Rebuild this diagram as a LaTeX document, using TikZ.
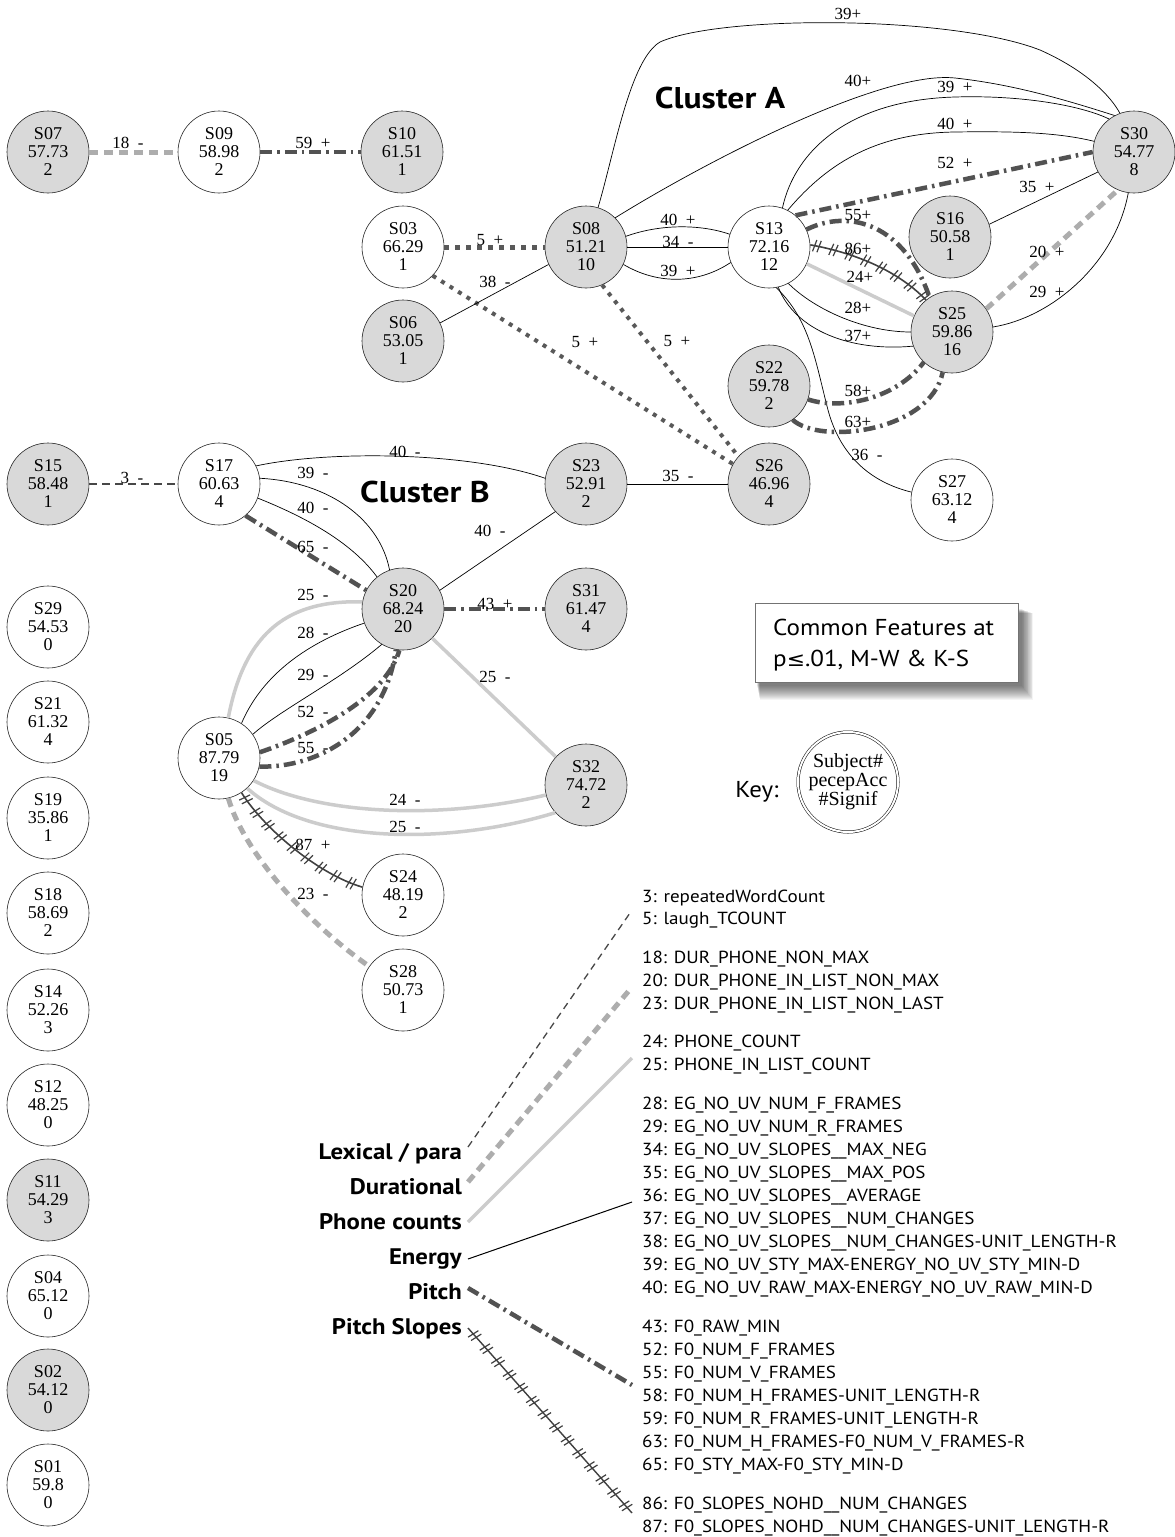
\documentclass[tikz,border=0pt]{standalone}
\usepackage{fontspec}
\setmainfont{Liberation Serif}
\newfontfamily\sans{PT Sans}
\newfontfamily\djv{DejaVu Sans}
\usetikzlibrary{decorations.markings}
\definecolor{nodegray}{gray}{0.85}
\definecolor{pitchc}{gray}{0.32}
\definecolor{durc}{gray}{0.68}
\definecolor{phonec}{gray}{0.80}
\definecolor{lexc}{gray}{0.28}
\definecolor{dotc}{gray}{0.35}
\definecolor{tickc}{gray}{0.25}
\begin{document}
\begin{tikzpicture}[x=1pt,y=-1pt,
  subj/.style={circle, draw=black!85, line width=0.6pt, minimum size=82pt, inner sep=0pt, align=center, font=\fontsize{18}{18}\selectfont, fill=white},
  gsubj/.style={subj, fill=nodegray},
  lbl/.style={font=\fontsize{17}{17}\selectfont, inner sep=0pt},
  thin/.style={draw=black, line width=0.7pt},
  phone/.style={draw=phonec, line width=3.5pt},
  dur/.style={draw=durc, line width=5pt, dash pattern=on 9pt off 6pt},
  pitch/.style={draw=pitchc, line width=4.5pt, dash pattern=on 12pt off 5pt on 2.5pt off 5pt},
  lex/.style={draw=lexc, line width=1.4pt, dash pattern=on 8pt off 5pt},
  dotbig/.style={draw=dotc, line width=5pt, dash pattern=on 5pt off 6pt},
  dotsmall/.style={draw=dotc, line width=4pt, dash pattern=on 4pt off 6pt},
  ticked/.style={draw=tickc, line width=1.6pt, postaction={decorate, decoration={markings, mark=between positions 0.05 and 0.98 step 17pt with {\draw[tickc, line width=1.2pt] (-3pt,-6pt) -- (-1pt,6pt) (1.5pt,-6pt) -- (3.5pt,6pt);}}}},
  feat/.style={anchor=base west, inner sep=0pt, font=\sans\fontsize{17.5}{17.5}\selectfont},
  cat/.style={anchor=base east, inner sep=0pt, font=\sans\bfseries\fontsize{22.5}{22.5}\selectfont},
  clus/.style={inner sep=0pt, font=\sans\bfseries\fontsize{30}{30}\selectfont}
]
\fill[white] (0,0) rectangle (1175,1537);
\useasboundingbox (0,0) rectangle (1175,1537);

% ---------- subject nodes ----------
\node[gsubj] (S07) at (48,152) {S07\\57.73\\2};
\node[subj]  (S09) at (219,152) {S09\\58.98\\2};
\node[gsubj] (S10) at (402,152) {S10\\61.51\\1};
\node[subj]  (S03) at (403,247) {S03\\66.29\\1};
\node[gsubj] (S06) at (403,341) {S06\\53.05\\1};
\node[gsubj] (S08) at (586,247) {S08\\51.21\\10};
\node[subj]  (S13) at (769,247) {S13\\72.16\\12};
\node[gsubj] (S30) at (1134,152) {S30\\54.77\\8};
\node[gsubj] (S16) at (950,237) {S16\\50.58\\1};
\node[gsubj] (S25) at (952,332) {S25\\59.86\\16};
\node[gsubj] (S22) at (769,386) {S22\\59.78\\2};
\node[gsubj] (S26) at (769,484) {S26\\46.96\\4};
\node[subj]  (S27) at (952,500) {S27\\63.12\\4};
\node[gsubj] (S15) at (48,484) {S15\\58.48\\1};
\node[subj]  (S17) at (219,484) {S17\\60.63\\4};
\node[gsubj] (S23) at (586,484) {S23\\52.91\\2};
\node[gsubj] (S20) at (403,609) {S20\\68.24\\20};
\node[gsubj] (S31) at (586,609) {S31\\61.47\\4};
\node[subj]  (S05) at (219,758) {S05\\87.79\\19};
\node[gsubj] (S32) at (586,785) {S32\\74.72\\2};
\node[subj]  (S24) at (403,895) {S24\\48.19\\2};
\node[subj]  (S28) at (403,990) {S28\\50.73\\1};
\node[subj]  (S29) at (48,627) {S29\\54.53\\0};
\node[subj]  (S21) at (48,722) {S21\\61.32\\4};
\node[subj]  (S19) at (48,818) {S19\\35.86\\1};
\node[subj]  (S18) at (48,913) {S18\\58.69\\2};
\node[subj]  (S14) at (48,1010) {S14\\52.26\\3};
\node[subj]  (S12) at (48,1105) {S12\\48.25\\0};
\node[gsubj] (S11) at (48,1200) {S11\\54.29\\3};
\node[subj]  (S04) at (48,1296) {S04\\65.12\\0};
\node[gsubj] (S02) at (48,1390) {S02\\54.12\\0};
\node[subj]  (S01) at (48,1485) {S01\\59.8\\0};

% ---------- cluster labels ----------
\node[clus] (cA) at (720,98) {\scalebox{1.12}[1]{Cluster A}};
\node[clus] (cB) at (425,492) {\scalebox{1.12}[1]{Cluster B}};

% ---------- top-left chain ----------
\draw[dur] (S07.east) -- (S09.west);
\draw[pitch] (S09.east) -- (S10.west);
\node[lbl] (e1) at (128,143) {18\enspace-};
\node[lbl] (e2) at (313,143) {59\enspace+};

% ---------- cluster A ----------
\draw[dotbig] (S03.east) -- (S08.west);
\draw[dotsmall] (S03.-44) -- (S26.151);
\draw[dotsmall] (S08.-67) -- (S26.138);
\draw[thin] (S06.26) -- (S08.205);
\draw[thin] (S08.15) .. controls (660,224) and (700,224) .. (S13.162);
\draw[thin] (S08.east) -- (S13.west);
\draw[thin] (S08.-25) .. controls (660,286) and (700,283) .. (S13.-158);
\draw[thin] (S23.east) -- (S26.west);
\draw[thin] (S08.73) .. controls (615,150) and (630,60) .. (660,42) .. controls (720,15) and (950,15) .. (1040,50) .. controls (1085,70) and (1110,95) .. (S30.110);
\draw[thin] (S08.45) .. controls (700,165) and (880,70) .. (955,78) .. controls (1010,84) and (1060,98) .. (S30.118);
\draw[thin] (S13.71) .. controls (795,150) and (850,100) .. (955,97) .. controls (1020,95) and (1080,105) .. (S30.127);
\draw[thin] (S13.63) .. controls (830,160) and (880,133) .. (955,132) .. controls (1020,131) and (1060,133) .. (S30.165);
\draw[pitch] (S13.50) -- (S30.180);
\draw[thin] (S16.18) -- (S30.209);
\draw[dur] (S25.34) -- (S30.247);
\draw[thin] (S25.7) .. controls (1050,318) and (1115,265) .. (S30.262);
\draw[pitch] (S13.25) .. controls (850,208) and (905,225) .. (S25.123);
\draw[ticked] (S13.3) .. controls (850,252) and (895,268) .. (S25.129);
\draw[phone] (S13.-24) -- (S25.157);
\draw[thin] (S13.-62) .. controls (815,310) and (865,332) .. (S25.180);
\draw[thin] (S13.-77) .. controls (795,330) and (850,352) .. (S25.200);
\draw[thin] (S13.-80) .. controls (810,320) and (815,360) .. (828,410) .. controls (840,455) and (870,482) .. (S27.169);
\draw[pitch] (S22.-19) .. controls (840,410) and (895,400) .. (S25.-133);
\draw[pitch] (S22.-55) .. controls (820,445) and (930,432) .. (S25.-103);

\node[lbl] (e3) at (490,240) {5\enspace+};
\node[lbl] (e4) at (495,282) {38\enspace-};
\node[lbl] (e5) at (585,342) {5\enspace+};
\node[lbl] (e6) at (677,341) {5\enspace+};
\node[lbl] (e7) at (678,220) {40\enspace+};
\node[lbl] (e8) at (678,242) {34\enspace-};
\node[lbl] (e9) at (678,271) {39\enspace+};
\node[lbl] (e10) at (848,14) {39+};
\node[lbl] (e11) at (858,81) {40+};
\node[lbl] (e12) at (955,87) {39\enspace+};
\node[lbl] (e13) at (955,124) {40\enspace+};
\node[lbl] (e14) at (955,163) {52\enspace+};
\node[lbl] (e15) at (1037,187) {35\enspace+};
\node[lbl] (e16) at (1047,252) {20\enspace+};
\node[lbl] (e17) at (1047,292) {29\enspace+};
\node[lbl] (e18) at (858,215) {55+};
\node[lbl] (e19) at (858,249) {86+};
\node[lbl] (e20) at (860,277) {24+};
\node[lbl] (e21) at (858,308) {28+};
\node[lbl] (e22) at (858,336) {37+};
\node[lbl] (e23) at (858,391) {58+};
\node[lbl] (e24) at (858,422) {63+};
\node[lbl] (e25) at (867,455) {36\enspace-};
\node[lbl] (e26) at (678,476) {35\enspace-};

% ---------- cluster B ----------
\draw[lex] (S15.east) -- (S17.west);
\draw[thin] (S17.26) .. controls (330,450) and (470,452) .. (S23.172);
\draw[thin] (S17.8) .. controls (330,482) and (380,520) .. (S20.109);
\draw[thin] (S17.-20) .. controls (300,515) and (350,540) .. (S20.129);
\draw[pitch] (S17.-50) -- (S20.153);
\draw[thin] (S20.27) -- (S23.222);
\draw[pitch] (S20.east) -- (S31.west);
\draw[phone] (S20.-45) -- (S32.137);
\draw[phone] (S05.77) .. controls (245,630) and (290,600) .. (S20.170);
\draw[thin] (S05.57) .. controls (260,680) and (300,645) .. (S20.200);
\draw[thin] (S05.35) .. controls (280,710) and (340,680) .. (S20.-121);
\draw[pitch] (S05.8) .. controls (310,735) and (385,700) .. (S20.-95);
\draw[pitch] (S05.-12) .. controls (320,768) and (385,730) .. (S20.-100);
\draw[phone] (S05.-33) .. controls (320,815) and (440,820) .. (S32.-166);
\draw[phone] (S05.-47) .. controls (310,845) and (450,845) .. (S32.-138);
\draw[ticked] (S05.-57) .. controls (265,830) and (320,875) .. (S24.169);
\draw[dur] (S05.-77) .. controls (245,855) and (310,925) .. (S28.145);

\node[lbl] (e27) at (132,478) {3\enspace-};
\node[lbl] (e28) at (405,452) {40\enspace-};
\node[lbl] (e29) at (313,473) {39\enspace-};
\node[lbl] (e30) at (313,508) {40\enspace-};
\node[lbl] (e31) at (313,547) {65\enspace-};
\node[lbl] (e32) at (490,531) {40\enspace-};
\node[lbl] (e33) at (495,604) {43\enspace+};
\node[lbl] (e34) at (313,595) {25\enspace-};
\node[lbl] (e35) at (313,633) {28\enspace-};
\node[lbl] (e36) at (313,675) {29\enspace-};
\node[lbl] (e37) at (313,712) {52\enspace-};
\node[lbl] (e38) at (313,748) {55\enspace-};
\node[lbl] (e39) at (495,677) {25\enspace-};
\node[lbl] (e40) at (405,800) {24\enspace-};
\node[lbl] (e41) at (405,827) {25\enspace-};
\node[lbl] (e42) at (313,845) {87\enspace+};
\node[lbl] (e43) at (313,894) {23\enspace-};

% ---------- common features box ----------
\foreach \i in {0,...,14}
  \fill[black, opacity=0.045] (757+\i*0.2, 609+\i*0.3) rectangle (1022+\i*0.8, 686+\i);
\node[draw=black!55, fill=white, line width=0.5pt, minimum width=263pt, minimum height=79pt, inner sep=0pt] (cfbox) at (886.5,642.5) {};
\node[anchor=base west, inner sep=0pt, font=\sans\fontsize{23}{23}\selectfont] (cft1) at (773,635) {\scalebox{1.09}[1]{Common Features at}};
\node[anchor=base west, inner sep=0pt, font=\sans\fontsize{23}{23}\selectfont] (cft2) at (773,666) {\scalebox{1.09}[1]{p{\djv\fontsize{20}{20}\selectfont ≤}.01, M-W \& K-S}};

% ---------- key ----------
\node[anchor=center, inner sep=0pt, font=\sans\fontsize{23}{23}\selectfont] (keylbl) at (757,792) {\scalebox{1.08}[1]{Key:}};
\node[circle, draw=black, line width=0.5pt, double, double distance=2pt, minimum size=100pt, inner sep=0pt, align=center, font=\fontsize{20}{19}\selectfont] (key) at (848,782) {Subject\#\\pecepAcc\\\#Signif};

% ---------- legend ----------
\foreach \y/\t [count=\n] in {
  896/{3: repeatedWordCount},
  918/{5: laugh\_TCOUNT},
  957/{18: DUR\_PHONE\_NON\_MAX},
  980/{20: DUR\_PHONE\_IN\_LIST\_NON\_MAX},
  1003/{23: DUR\_PHONE\_IN\_LIST\_NON\_LAST},
  1041/{24: PHONE\_COUNT},
  1064/{25: PHONE\_IN\_LIST\_COUNT},
  1103/{28: EG\_NO\_UV\_NUM\_F\_FRAMES},
  1126/{29: EG\_NO\_UV\_NUM\_R\_FRAMES},
  1149/{34: EG\_NO\_UV\_SLOPES\_\_MAX\_NEG},
  1172/{35: EG\_NO\_UV\_SLOPES\_\_MAX\_POS},
  1195/{36: EG\_NO\_UV\_SLOPES\_\_AVERAGE},
  1218/{37: EG\_NO\_UV\_SLOPES\_\_NUM\_CHANGES},
  1241/{38: EG\_NO\_UV\_SLOPES\_\_NUM\_CHANGES-UNIT\_LENGTH-R},
  1264/{39: EG\_NO\_UV\_STY\_MAX-ENERGY\_NO\_UV\_STY\_MIN-D},
  1287/{40: EG\_NO\_UV\_RAW\_MAX-ENERGY\_NO\_UV\_RAW\_MIN-D},
  1326/{43: F0\_RAW\_MIN},
  1349/{52: F0\_NUM\_F\_FRAMES},
  1372/{55: F0\_NUM\_V\_FRAMES},
  1395/{58: F0\_NUM\_H\_FRAMES-UNIT\_LENGTH-R},
  1418/{59: F0\_NUM\_R\_FRAMES-UNIT\_LENGTH-R},
  1441/{63: F0\_NUM\_H\_FRAMES-F0\_NUM\_V\_FRAMES-R},
  1464/{65: F0\_STY\_MAX-F0\_STY\_MIN-D},
  1503/{86: F0\_SLOPES\_NOHD\_\_NUM\_CHANGES},
  1526/{87: F0\_SLOPES\_NOHD\_\_NUM\_CHANGES-UNIT\_LENGTH-R}}
  \node[feat] (f\n) at (642,\y+6) {\scalebox{1.09}[1]{\t}};

\node[cat] (cLex) at (462,1159) {\scalebox{1.1}[1]{Lexical / para}};
\node[cat] (cDur) at (462,1194) {\scalebox{1.1}[1]{Durational}};
\node[cat] (cPho) at (462,1229) {\scalebox{1.1}[1]{Phone counts}};
\node[cat] (cEne) at (462,1264) {\scalebox{1.1}[1]{Energy}};
\node[cat] (cPit) at (462,1299) {\scalebox{1.1}[1]{Pitch}};
\node[cat] (cSlo) at (462,1334) {\scalebox{1.1}[1]{Pitch Slopes}};

\coordinate (lx1) at (468,1147); \coordinate (lx2) at (630,913);
\coordinate (du1) at (468,1182); \coordinate (du2) at (632,987);
\coordinate (ph1) at (468,1222); \coordinate (ph2) at (632,1058);
\coordinate (en1) at (468,1259); \coordinate (en2) at (632,1202);
\coordinate (pi1) at (468,1288); \coordinate (pi2) at (632,1385);
\coordinate (ps1) at (468,1328); \coordinate (ps2) at (632,1513);
\draw[draw=lexc, line width=1.3pt, dash pattern=on 7pt off 5pt] (lx1) -- (lx2);
\draw[dur] (du1) -- (du2);
\draw[phone] (ph1) -- (ph2);
\draw[draw=black, line width=1pt] (en1) -- (en2);
\draw[pitch] (pi1) -- (pi2);
\draw[draw=tickc, line width=1.4pt, postaction={decorate, decoration={markings, mark=between positions 0.04 and 0.99 step 17.5pt with {\draw[tickc, line width=1.2pt] (-3pt,-6pt) -- (-1pt,6pt) (1.5pt,-6pt) -- (3.5pt,6pt);}}}] (ps1) -- (ps2);
\end{tikzpicture}
\end{document}
